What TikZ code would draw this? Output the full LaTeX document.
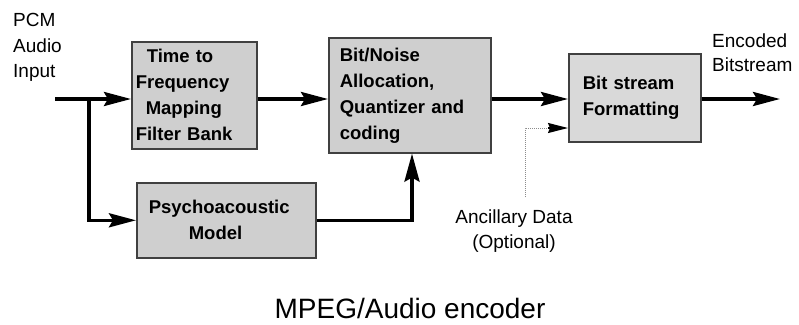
\documentclass[tikz,border=0pt]{standalone}
\usepackage{fontspec}
\setmainfont{Liberation Sans}
\usetikzlibrary{arrows.meta}
\begin{document}
\begin{tikzpicture}[x=1pt,y=-1pt,
  box/.style={draw=black!75, line width=1.6pt, fill=black!19, rectangle, inner ysep=0pt,
    font=\bfseries\fontsize{18.5}{26}\selectfont, align=left, anchor=north west},
  lbl/.style={font=\fontsize{19}{25.5}\selectfont, inner sep=0pt},
  arr/.style={line width=3.5pt, -{Stealth[length=27pt,width=14pt,inset=4pt]}},
]
\useasboundingbox (0,0) rectangle (799,324);
% blocks
\node[box, inner xsep=4pt, text width=117pt, minimum height=107pt] (tf) at (131,41)
  {\hspace*{11pt}Time to\\Frequency\\\hspace*{10pt}Mapping\\Filter Bank};
\node[box, inner xsep=11pt, text width=140pt, minimum height=115pt] (bn) at (328,37)
  {Bit/Noise\\Allocation,\\Quantizer and\\coding};
\node[box, inner xsep=14pt, text width=104pt, minimum height=88pt, fill=black!15] (bs) at (568,53)
  {Bit stream\\Formatting};
\node[box, inner xsep=12pt, text width=155pt, minimum height=75pt] (pm) at (136,182)
  {Psychoacoustic\\\hspace*{40pt}Model};
% labels
\node[lbl, anchor=north west, align=left] (pcm) at (13,13.5) {PCM\\Audio\\Input};
\node[lbl, anchor=north west, align=left, font=\fontsize{19}{24}\selectfont] (enc) at (712,33.5) {Encoded\\Bitstream};
\node[lbl, anchor=north, align=center] (ancl) at (514,209.5) {Ancillary Data\\(Optional)};
\node[font=\fontsize{28}{34}\selectfont, anchor=base, inner sep=0pt, text depth=0pt] (title) at (410,318) {MPEG/Audio encoder};
% coordinates
\coordinate (in) at (55,99);
\coordinate (br) at (89,99);
\coordinate (out) at (780,99);
\coordinate (anc) at (525,197);
\coordinate (ancin) at (548,128);
\coordinate (up) at (412,221);
% connectors
\draw[arr] (in) -- (in -| tf.west);
\draw[arr] (tf.east |- in) -- (in -| bn.west);
\draw[arr] (bn.east |- in) -- (in -| bs.west);
\draw[arr] (bs.east |- in) -- (out);
\draw[arr] (br) |- (pm.west);
\draw[line width=3.5pt, -{Stealth[length=28pt,width=15pt,inset=4pt]}] (pm.east) -| (bn.south -| up);
\draw[densely dotted, black!45, line width=1pt] (anc) |- (ancin);
\draw[line width=1.5pt, -{Stealth[length=20pt,width=10pt,inset=2pt]}] (ancin) -- (ancin -| bs.west);
\end{tikzpicture}
\end{document}
